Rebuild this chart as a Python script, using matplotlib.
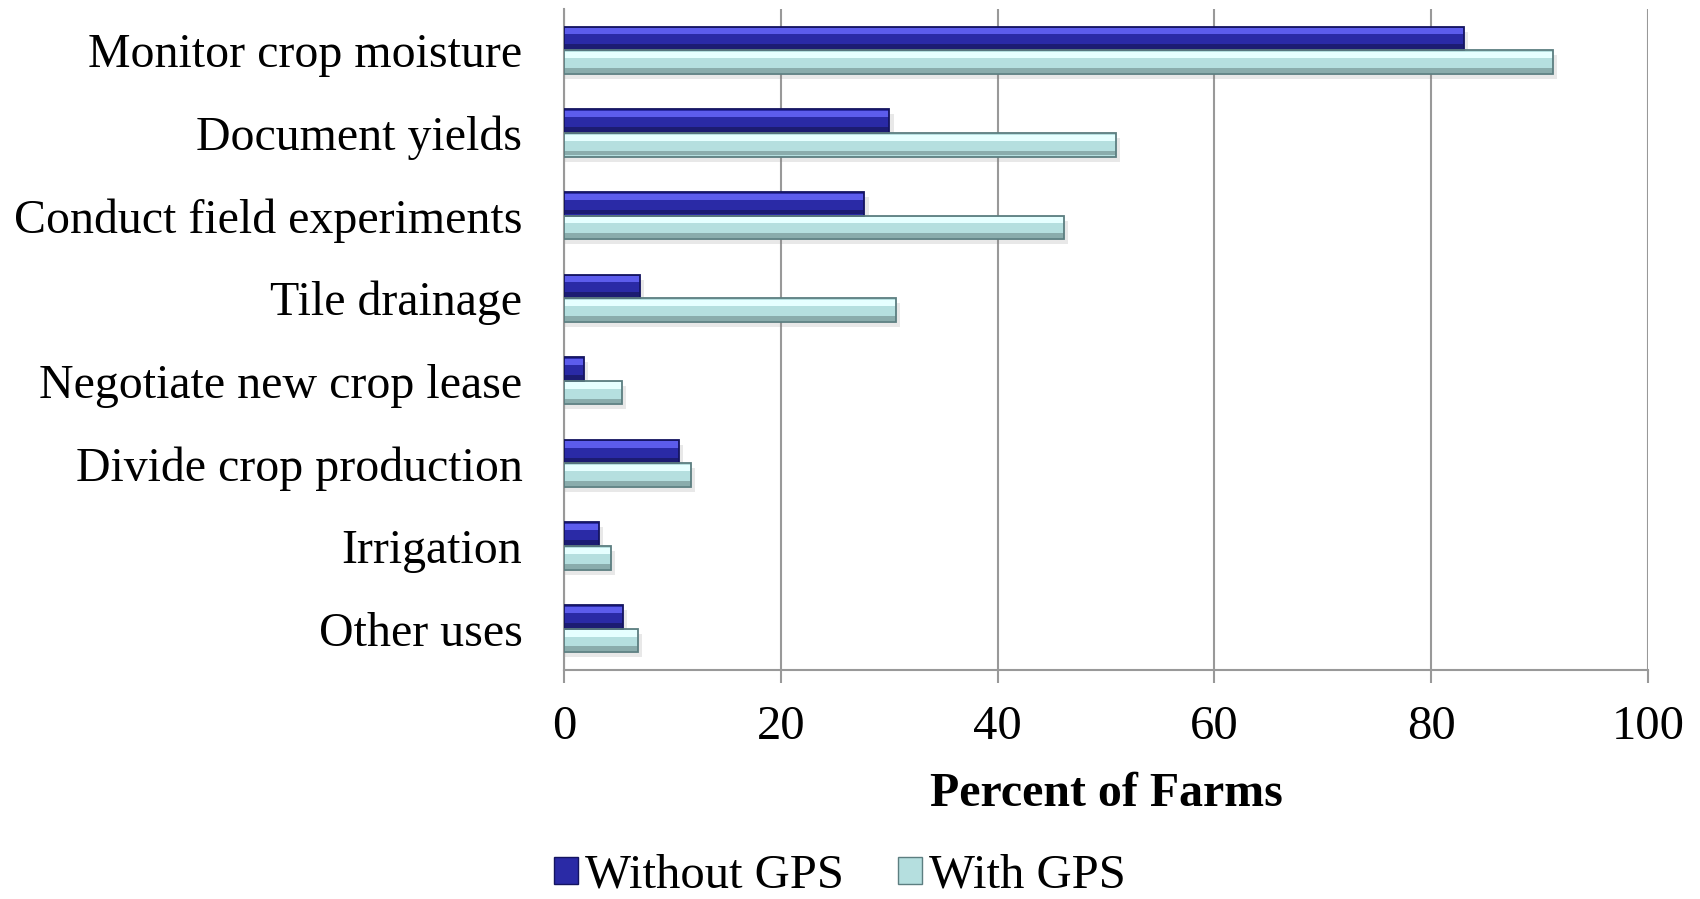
import numpy as np
import matplotlib.pyplot as plt
from matplotlib.patches import Patch

# data (percent of farms)
categories = ['Monitor crop moisture', 'Document yields', 'Conduct field experiments',
              'Tile drainage', 'Negotiate new crop lease', 'Divide crop production',
              'Irrigation', 'Other uses']
without_gps = [83.0, 30.0, 27.7, 7.0, 1.8, 10.6, 3.2, 5.4]
with_gps = [91.2, 50.9, 46.1, 30.6, 5.3, 11.7, 4.3, 6.8]
xticks = [0, 20, 40, 60, 80, 100]

plt.rcParams['font.family'] = ['Liberation Serif', 'DejaVu Serif']

fig, ax = plt.subplots(figsize=(17, 8.99), dpi=100)
fig.subplots_adjust(left=0.3318, right=0.9694, top=0.99, bottom=0.2547)

y = np.arange(len(categories))
h = 0.286
off = 0.143

def bevel_bar(ypos, vals, mid, light, dark, edge):
    # soft shadow
    ax.barh(ypos + 0.06, np.array(vals) + 0.4, height=h, color='#808080', alpha=0.18, lw=0, zorder=2)
    ax.barh(ypos, vals, height=h, color=mid, lw=0, zorder=3)
    # highlight strip on top, darker strip at bottom
    ax.barh(ypos - h * 0.3, vals, height=h * 0.26, color=light, lw=0, zorder=4)
    ax.barh(ypos + h * 0.35, vals, height=h * 0.2, color=dark, lw=0, zorder=4)
    ax.barh(ypos, vals, height=h, fill=False, edgecolor=edge, lw=1.3, zorder=5)

bevel_bar(y - off, without_gps, '#2a2aa6', '#5c5cec', '#1c1c72', '#141460')
bevel_bar(y + off, with_gps, '#b5dfdf', '#e6ffff', '#8aacac', '#5c7e80')

ax.set_xlim(0, 100)
ax.set_ylim(len(categories) - 0.5, -0.5)
ax.set_xticks(xticks)
ax.set_yticks(y)
ax.set_yticklabels(categories)
ax.tick_params(axis='y', length=0, pad=30, labelsize=34.5)
ax.tick_params(axis='x', length=9.4, width=1.5, color='#999999', pad=15.5, labelsize=35)
ax.grid(axis='x', color='#999999', lw=1.5)
ax.set_axisbelow(True)
for s in ['top', 'right']:
    ax.spines[s].set_visible(False)
for s in ['left', 'bottom']:
    ax.spines[s].set_color('#999999')
    ax.spines[s].set_linewidth(1.5)

ax.set_xlabel('Percent of Farms', fontsize=34.5, fontweight='bold', va='center')
ax.xaxis.set_label_coords(0.5, -0.187)

handles = [Patch(facecolor='#2a2aa6', edgecolor='#141460', label='Without GPS'),
           Patch(facecolor='#b5dfdf', edgecolor='#5c7e80', label='With GPS')]
fig.legend(handles=handles, loc='center', bbox_to_anchor=(0.494, 0.026), ncol=2,
           frameon=False, fontsize=35, handlelength=0.5, handleheight=0.5,
           handletextpad=0.15, columnspacing=1.1, borderpad=0.0)

fig.savefig('out.png', dpi=100)
